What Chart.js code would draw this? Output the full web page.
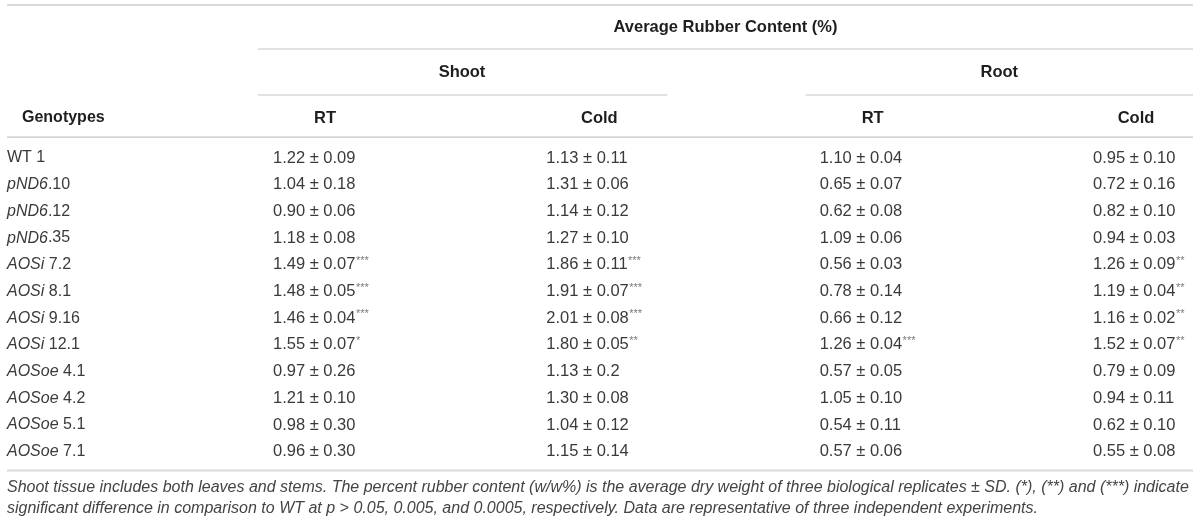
<!DOCTYPE html>
<html>
<head>
<meta charset="utf-8">
<script src="https://cdn.jsdelivr.net/npm/chart.js@4.4.1/dist/chart.umd.min.js"></script>
<style>
  html, body { margin: 0; padding: 0; background: #fff; }
  #wrap { width: 1200px; height: 523px; }
</style>
</head>
<body>
<div id="wrap"><canvas id="table" width="1200" height="523"></canvas></div>
<script>
const title = "Average Rubber Content (%)";
const tissues = ["Shoot", "Root"];
const columns = ["Shoot RT", "Shoot Cold", "Root RT", "Root Cold"];
const columnHeads = ["RT", "Cold", "RT", "Cold"];
const genotypes = ["WT 1", "pND6.10", "pND6.12", "pND6.35", "AOSi 7.2", "AOSi 8.1",
  "AOSi 9.16", "AOSi 12.1", "AOSoe 4.1", "AOSoe 4.2", "AOSoe 5.1", "AOSoe 7.1"];

const shootRTMean = [1.22, 1.04, 0.90, 1.18, 1.49, 1.48, 1.46, 1.55, 0.97, 1.21, 0.98, 0.96];
const shootRTSd = ["0.09", "0.18", "0.06", "0.08", "0.07", "0.05", "0.04", "0.07", "0.26", "0.10", "0.30", "0.30"];
const shootRTSig = ["", "", "", "", "***", "***", "***", "*", "", "", "", ""];

const shootColdMean = [1.13, 1.31, 1.14, 1.27, 1.86, 1.91, 2.01, 1.80, 1.13, 1.30, 1.04, 1.15];
const shootColdSd = ["0.11", "0.06", "0.12", "0.10", "0.11", "0.07", "0.08", "0.05", "0.2", "0.08", "0.12", "0.14"];
const shootColdSig = ["", "", "", "", "***", "***", "***", "**", "", "", "", ""];

const rootRTMean = [1.10, 0.65, 0.62, 1.09, 0.56, 0.78, 0.66, 1.26, 0.57, 1.05, 0.54, 0.57];
const rootRTSd = ["0.04", "0.07", "0.08", "0.06", "0.03", "0.14", "0.12", "0.04", "0.05", "0.10", "0.11", "0.06"];
const rootRTSig = ["", "", "", "", "", "", "", "***", "", "", "", ""];

const rootColdMean = [0.95, 0.72, 0.82, 0.94, 1.26, 1.19, 1.16, 1.52, 0.79, 0.94, 0.62, 0.55];
const rootColdSd = ["0.10", "0.16", "0.10", "0.03", "0.09", "0.04", "0.02", "0.07", "0.09", "0.11", "0.10", "0.08"];
const rootColdSig = ["", "", "", "", "**", "**", "**", "**", "", "", "", ""];

const footnote = [
  "Shoot tissue includes both leaves and stems. The percent rubber content (w/w%) is the average dry weight of three biological replicates \u00b1 SD. (*), (**) and (***) indicate",
  "significant difference in comparison to WT at p > 0.05, 0.005, and 0.0005, respectively. Data are representative of three independent experiments."
];

const series = [
  { mean: shootRTMean, sd: shootRTSd, sig: shootRTSig },
  { mean: shootColdMean, sd: shootColdSd, sig: shootColdSig },
  { mean: rootRTMean, sd: rootRTSd, sig: rootRTSig },
  { mean: rootColdMean, sd: rootColdSd, sig: rootColdSig },
];

const FONT = "'Liberation Sans', Arial, sans-serif";
const TEXT = "#3a3a3a";
const HEAD = "#1e1e1e";
const RULE = "#c6c6c6";

function rule(ctx, x1, x2, y, width, color) {
  ctx.save();
  ctx.strokeStyle = color || RULE;
  ctx.lineWidth = width || 1.2;
  ctx.beginPath();
  ctx.moveTo(x1, y);
  ctx.lineTo(x2, y);
  ctx.stroke();
  ctx.restore();
}

function drawGenotype(ctx, label, x, y) {
  const m = label.match(/^(pND6|AOSi|AOSoe)(.*)$/);
  ctx.textAlign = "left";
  if (!m) {
    ctx.font = "16px " + FONT;
    ctx.fillText(label, x, y);
    return;
  }
  ctx.font = "italic 16px " + FONT;
  ctx.fillText(m[1], x, y);
  const w = ctx.measureText(m[1]).width;
  ctx.font = "16px " + FONT;
  ctx.fillText(m[2], x + w, y);
}

const tablePlugin = {
  id: "tableText",
  afterDatasetsDraw(chart) {
    const ctx = chart.ctx;
    const xs = chart.scales.x;
    const ys = chart.scales.y;
    const area = chart.chartArea;
    const left = 7, right = chart.width - 7;
    const colX = columns.map((c, i) => xs.getPixelForValue(i));
    const headShift = [52, 53, 53, 43];

    ctx.save();
    ctx.textBaseline = "middle";

    // rules
    rule(ctx, left, right, 5, 2, "#dadada");
    rule(ctx, colX[0] - 15, right, 49);
    rule(ctx, colX[0] - 15, colX[1] + 121, 95);
    rule(ctx, colX[2] - 14, right, 95);
    rule(ctx, left, right, area.top - 7.5);
    rule(ctx, left, right, area.bottom + 5.5, 2, "#dadada");

    // headings
    ctx.fillStyle = HEAD;
    ctx.font = "bold 16.5px " + FONT;
    ctx.textAlign = "center";
    ctx.fillText(title, (colX[0] - 15 + right) / 2, 27);
    ctx.fillText(tissues[0], 462, 72);
    ctx.fillText(tissues[1], (colX[2] + colX[3]) / 2 + 43, 72);
    columnHeads.forEach((h, i) => ctx.fillText(h, colX[i] + headShift[i], 118));
    ctx.textAlign = "left";
    ctx.font = "bold 16px " + FONT;
    ctx.fillText("Genotypes", 22, 118);

    // row labels
    ctx.fillStyle = TEXT;
    genotypes.forEach((g, r) => drawGenotype(ctx, g, 7, ys.getPixelForValue(r)));

    // cells
    chart.data.datasets.forEach((ds, i) => {
      const meta = chart.getDatasetMeta(i);
      const s = series[i];
      meta.data.forEach((pt, r) => {
        const txt = s.mean[r].toFixed(2) + " \u00b1 " + s.sd[r];
        ctx.fillStyle = TEXT;
        ctx.font = "16.5px " + FONT;
        ctx.textAlign = "left";
        ctx.fillText(txt, pt.x, pt.y);
        if (s.sig[r]) {
          const w = ctx.measureText(txt).width;
          ctx.font = "11px " + FONT;
          ctx.fillStyle = "#7a7a7a";
          ctx.fillText(s.sig[r], pt.x + w + 0.5, pt.y - 4);
        }
      });
    });

    // footnote
    ctx.fillStyle = "#444";
    ctx.font = "italic 16px " + FONT;
    ctx.textAlign = "left";
    footnote.forEach((line, k) => {
      ctx.fillText(line, 7, area.bottom + 22 + k * 21, right - 8);
    });
    ctx.restore();
  }
};

new Chart(document.getElementById("table"), {
  type: "scatter",
  data: {
    datasets: series.map((s, i) => ({
      label: columns[i],
      data: genotypes.map(g => ({ x: columns[i], y: g })),
      pointRadius: 0,
      pointHoverRadius: 0,
    })),
  },
  options: {
    responsive: false,
    animation: false,
    events: [],
    layout: { padding: { left: 273, right: 107, top: 144.6, bottom: 57.9 } },
    plugins: { legend: { display: false }, tooltip: { enabled: false } },
    scales: {
      x: { type: "category", labels: columns, offset: false, display: false },
      y: { type: "category", labels: genotypes, offset: true, display: false },
    },
  },
  plugins: [tablePlugin],
});
</script>
</body>
</html>
